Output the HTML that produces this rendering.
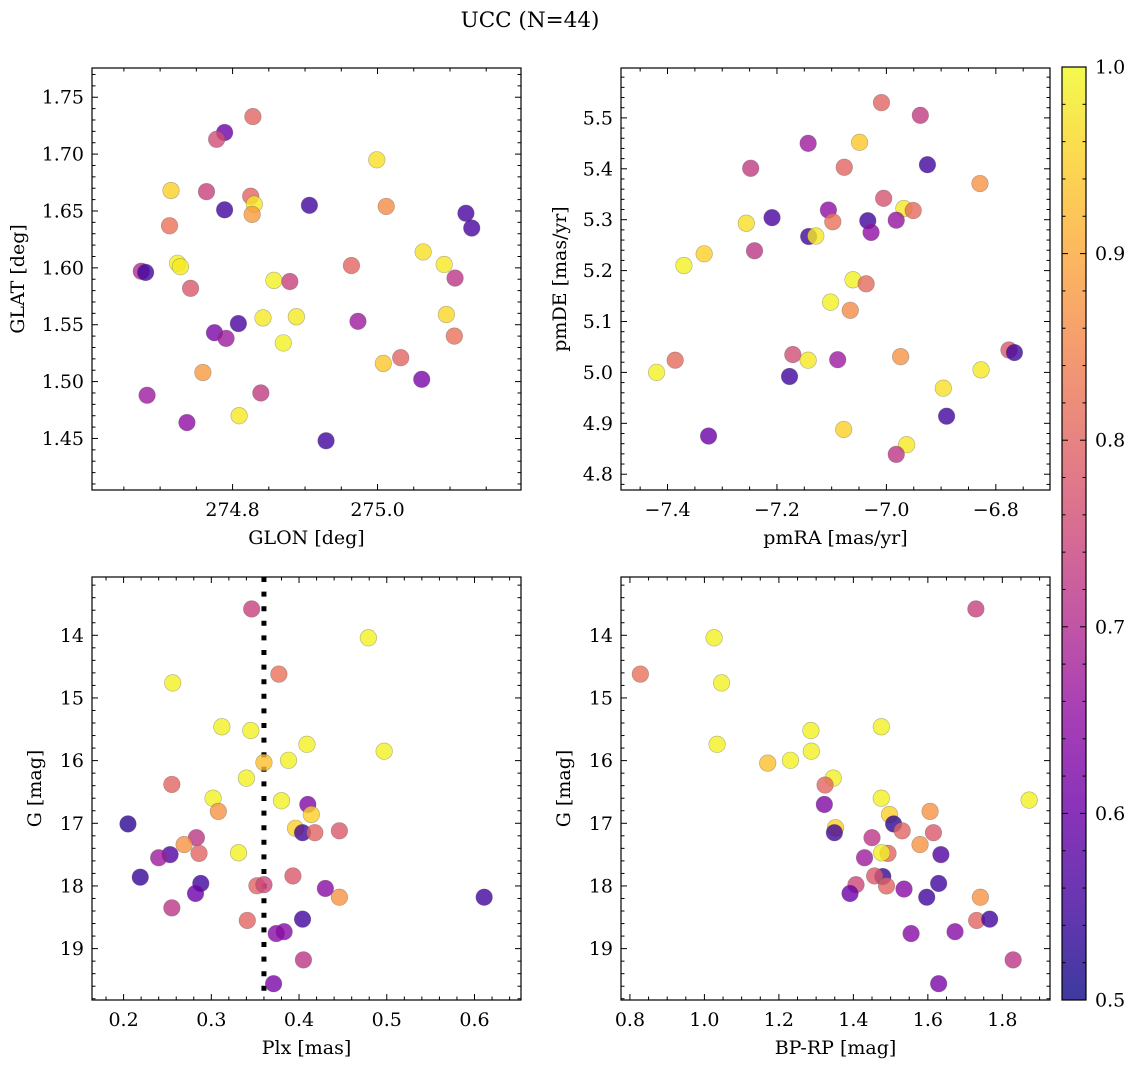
<!DOCTYPE html>
<html><head><meta charset="utf-8">
<style>
html,body{margin:0;padding:0;background:#fff;}
svg{display:block;font-family:"DejaVu Serif","Liberation Serif",serif;}
</style></head>
<body>
<svg id="fig" width="1136" height="1067" viewBox="0 0 1136 1067" xmlns="http://www.w3.org/2000/svg">
<defs>
<linearGradient id="cbgrad" x1="0" y1="1" x2="0" y2="0">
<stop offset="0" stop-color="#0d0887"/><stop offset="0.1" stop-color="#41049d"/><stop offset="0.2" stop-color="#6a00a8"/><stop offset="0.3" stop-color="#8f0da4"/><stop offset="0.4" stop-color="#b12a90"/><stop offset="0.5" stop-color="#cc4778"/><stop offset="0.6" stop-color="#e16462"/><stop offset="0.7" stop-color="#f2844b"/><stop offset="0.8" stop-color="#fca636"/><stop offset="0.9" stop-color="#fcce25"/><stop offset="1" stop-color="#f0f921"/>
</linearGradient>
</defs>
<text x="530" y="27" font-size="21.5" text-anchor="middle" fill="#000">UCC (N=44)</text>
</svg>
<script>
// ---- Panel 1 data: GLON / GLAT ----
const p1_glon=[274.828,274.789,274.778,274.999,274.715,274.764,274.825,274.830,274.827,274.789,274.906,275.012,275.122,275.130,274.713,275.063,274.724,274.728,275.092,274.674,274.680,274.964,275.107,274.857,274.879,274.742,274.842,274.888,274.775,274.808,274.791,274.973,274.870,275.095,275.106,275.032,275.008,274.759,275.061,274.682,274.839,274.809,274.737,274.929];
const p1_glat=[1.733,1.719,1.713,1.695,1.668,1.667,1.663,1.656,1.647,1.651,1.655,1.654,1.648,1.635,1.637,1.614,1.604,1.601,1.603,1.597,1.596,1.602,1.591,1.589,1.588,1.582,1.556,1.557,1.543,1.551,1.538,1.553,1.534,1.559,1.540,1.521,1.516,1.508,1.502,1.488,1.490,1.470,1.464,1.448];
const p1_prob=[0.80,0.60,0.76,0.97,0.95,0.74,0.80,0.98,0.88,0.55,0.55,0.86,0.56,0.56,0.82,0.97,0.99,0.98,0.98,0.70,0.55,0.80,0.72,0.99,0.74,0.78,0.98,0.98,0.62,0.56,0.67,0.67,0.99,0.96,0.82,0.80,0.94,0.88,0.62,0.67,0.73,0.98,0.65,0.55];
// ---- Panel 2 data: pmRA / pmDE ----
const p2_pmra=[-7.009,-6.938,-7.143,-7.049,-7.248,-7.077,-6.925,-6.829,-7.106,-7.005,-7.209,-7.098,-7.034,-6.968,-6.951,-7.256,-6.982,-7.028,-7.142,-7.129,-7.333,-7.370,-7.241,-7.061,-7.037,-7.102,-7.066,-7.386,-7.420,-7.171,-7.143,-7.089,-7.177,-6.974,-6.776,-6.766,-6.827,-6.896,-6.890,-7.325,-7.078,-6.963,-6.982];
const p2_pmde=[5.530,5.505,5.450,5.452,5.401,5.403,5.408,5.371,5.319,5.342,5.304,5.296,5.298,5.322,5.318,5.293,5.299,5.275,5.267,5.268,5.233,5.210,5.239,5.182,5.174,5.138,5.122,5.024,5.000,5.035,5.024,5.025,4.992,5.031,5.044,5.039,5.005,4.969,4.914,4.875,4.888,4.858,4.839];
const p2_prob=[0.80,0.73,0.67,0.94,0.73,0.80,0.55,0.87,0.65,0.77,0.56,0.82,0.55,0.98,0.81,0.97,0.66,0.65,0.55,0.98,0.95,0.99,0.72,0.99,0.81,0.99,0.86,0.81,0.99,0.76,0.98,0.67,0.55,0.87,0.78,0.55,0.98,0.97,0.55,0.60,0.95,0.98,0.72];
// ---- Panel 3 data: Plx / G ----
const p3_plx=[0.346,0.479,0.377,0.256,0.312,0.345,0.409,0.497,0.360,0.388,0.340,0.255,0.302,0.380,0.410,0.308,0.414,0.205,0.396,0.404,0.418,0.446,0.283,0.269,0.331,0.253,0.286,0.240,0.219,0.393,0.288,0.430,0.352,0.360,0.282,0.446,0.611,0.255,0.341,0.404,0.374,0.383,0.405,0.371];
const p3_g=[13.58,14.04,14.62,14.76,15.46,15.52,15.74,15.85,16.03,15.995,16.28,16.38,16.60,16.64,16.70,16.81,16.86,17.01,17.08,17.15,17.15,17.12,17.23,17.34,17.47,17.50,17.48,17.55,17.86,17.84,17.96,18.04,17.997,17.98,18.12,18.18,18.18,18.35,18.55,18.53,18.76,18.73,19.18,19.56];
const p3_prob=[0.74,0.99,0.82,0.99,0.99,0.99,0.99,0.99,0.93,0.99,0.99,0.80,0.99,0.99,0.63,0.87,0.95,0.53,0.95,0.55,0.80,0.78,0.72,0.87,0.99,0.57,0.80,0.67,0.54,0.78,0.55,0.64,0.80,0.75,0.60,0.87,0.55,0.72,0.80,0.55,0.64,0.64,0.72,0.62];
const p3_plx_ref=[0.36];
// ---- Panel 4 data: BP-RP / G ----
const p4_bprp=[1.729,1.026,0.828,1.046,1.286,1.475,1.034,1.287,1.170,1.231,1.346,1.324,1.872,1.475,1.322,1.606,1.497,1.508,1.352,1.349,1.531,1.615,1.450,1.579,1.635,1.493,1.476,1.430,1.479,1.457,1.629,1.536,1.489,1.407,1.391,1.741,1.597,1.731,1.766,1.555,1.673,1.829,1.629];
const p4_g=[13.58,14.04,14.62,14.76,15.52,15.46,15.74,15.85,16.04,15.995,16.28,16.39,16.63,16.60,16.70,16.81,16.86,17.01,17.07,17.15,17.12,17.15,17.23,17.34,17.50,17.48,17.47,17.55,17.85,17.84,17.96,18.05,18.00,17.98,18.12,18.18,18.18,18.55,18.53,18.76,18.73,19.18,19.56];
const p4_prob=[0.74,0.99,0.82,0.99,0.99,0.99,0.99,0.99,0.93,0.99,0.99,0.80,0.99,0.99,0.63,0.87,0.95,0.53,0.95,0.55,0.80,0.78,0.72,0.87,0.57,0.80,0.99,0.67,0.54,0.78,0.55,0.64,0.80,0.75,0.60,0.87,0.55,0.80,0.55,0.64,0.64,0.72,0.62];
// ---- Tick arrays ----
const p1_xticks=[274.8,275.0], p1_xlabels=["274.8","275.0"];
const p1_yticks=[1.45,1.50,1.55,1.60,1.65,1.70,1.75], p1_ylabels=["1.45","1.50","1.55","1.60","1.65","1.70","1.75"];
const p2_xticks=[-7.4,-7.2,-7.0,-6.8], p2_xlabels=["\u22127.4","\u22127.2","\u22127.0","\u22126.8"];
const p2_yticks=[4.8,4.9,5.0,5.1,5.2,5.3,5.4,5.5], p2_ylabels=["4.8","4.9","5.0","5.1","5.2","5.3","5.4","5.5"];
const p3_xticks=[0.2,0.3,0.4,0.5,0.6], p3_xlabels=["0.2","0.3","0.4","0.5","0.6"];
const g_yticks=[14,15,16,17,18,19], g_ylabels=["14","15","16","17","18","19"];
const p4_xticks=[0.8,1.0,1.2,1.4,1.6,1.8], p4_xlabels=["0.8","1.0","1.2","1.4","1.6","1.8"];
const cb_ticks=[0.5,0.6,0.7,0.8,0.9,1.0], cb_labels=["0.5","0.6","0.7","0.8","0.9","1.0"];

const NS="http://www.w3.org/2000/svg";
const svg=document.getElementById('fig');
const FS=19;
function el(tag,attrs,parent){const e=document.createElementNS(NS,tag);for(const k in attrs)e.setAttribute(k,attrs[k]);(parent||svg).appendChild(e);return e;}

const stops=[[13,8,135],[65,4,157],[106,0,168],[143,13,164],[177,42,144],[204,71,120],[225,100,98],[242,132,75],[252,166,54],[252,206,37],[240,249,33]];
function plasma(t){t=Math.max(0,Math.min(1,t));const f=t*10;const i=Math.min(9,Math.floor(f));const r=f-i;const a=stops[i],b=stops[i+1];
 return 'rgb('+[0,1,2].map(k=>Math.round(a[k]+(b[k]-a[k])*r)).join(',')+')';}
function cnorm(p){return (p-0.5)/0.5;}

function panel(cfg){
 const g=el('g',{});
 
 
 const sx=v=>cfg.L+(v-cfg.xd[0])/(cfg.xd[1]-cfg.xd[0])*(cfg.R-cfg.L);
 const sy=v=>cfg.B-(v-cfg.yd[0])/(cfg.yd[1]-cfg.yd[0])*(cfg.B-cfg.T);
 const cid='clip-'+cfg.name;
 const cp=el('clipPath',{id:cid},g);el('rect',{x:cfg.L,y:cfg.T,width:cfg.R-cfg.L,height:cfg.B-cfg.T},cp);
 const pts=el('g',{'clip-path':'url(#'+cid+')'},g);
 
 
 if(cfg.vline!==undefined){
  const ln=el('line',{x1:sx(cfg.vline),x2:sx(cfg.vline),y1:cfg.T,y2:cfg.B,stroke:'#000','stroke-width':5,'stroke-dasharray':'5 9.6'},pts);
  
  
 }
 for(let i=0;i<cfg.xs.length;i++){
  const c=el('circle',{cx:sx(cfg.xs[i]),cy:sy(cfg.ys[i]),r:8.3,fill:plasma(cnorm(cfg.ps[i])),'fill-opacity':0.8,stroke:'#555','stroke-opacity':0.45,'stroke-width':0.6},pts);
  
  
 }
 el('rect',{x:cfg.L,y:cfg.T,width:cfg.R-cfg.L,height:cfg.B-cfg.T,fill:'none',stroke:'#000','stroke-width':1.2},g);
 const tk=el('g',{stroke:'#000','stroke-width':1},g);
 const xmin=Math.min(...cfg.xd),xmax=Math.max(...cfg.xd);
 for(let v=Math.ceil(xmin/cfg.xminor-1e-6)*cfg.xminor;v<=xmax+1e-9;v+=cfg.xminor){
  const x=sx(v);const isMaj=cfg.xt.some(t=>Math.abs(t-v)<cfg.xminor/10);const l=isMaj?6:3.5;
  el('line',{x1:x,x2:x,y1:cfg.B,y2:cfg.B-l},tk);el('line',{x1:x,x2:x,y1:cfg.T,y2:cfg.T+l},tk);
 }
 const ymin=Math.min(...cfg.yd),ymax=Math.max(...cfg.yd);
 for(let v=Math.ceil(ymin/cfg.yminor-1e-6)*cfg.yminor;v<=ymax+1e-9;v+=cfg.yminor){
  const y=sy(v);const isMaj=cfg.yt.some(t=>Math.abs(t-v)<cfg.yminor/10);const l=isMaj?6:3.5;
  el('line',{x1:cfg.L,x2:cfg.L+l,y1:y,y2:y},tk);el('line',{x1:cfg.R,x2:cfg.R-l,y1:y,y2:y},tk);
 }
 cfg.xt.forEach((v,i)=>{const t=el('text',{x:sx(v),y:cfg.B+26,'font-size':FS,'text-anchor':'middle',fill:'#000'},g);t.textContent=cfg.xl[i];
  });
 cfg.yt.forEach((v,i)=>{const t=el('text',{x:cfg.L-8,y:sy(v)+6.5,'font-size':FS,'text-anchor':'end',fill:'#000'},g);t.textContent=cfg.yl[i];
  });
 const xt=el('text',{x:(cfg.L+cfg.R)/2,y:cfg.B+54,'font-size':FS,'text-anchor':'middle',fill:'#000'},g);xt.textContent=cfg.xtitle;
 
 const yc=(cfg.T+cfg.B)/2;
 const yt=el('text',{x:cfg.ytx,y:yc,'font-size':FS,'text-anchor':'middle',fill:'#000',transform:'rotate(-90 '+cfg.ytx+' '+yc+')'},g);yt.textContent=cfg.ytitle;
 
}

panel({name:'glon-glat-panel',L:92,R:521,T:68,B:490,xd:[274.606,275.198],yd:[1.4047,1.7757],xs:p1_glon,ys:p1_glat,ps:p1_prob,
 xt:p1_xticks,xl:p1_xlabels,yt:p1_yticks,yl:p1_ylabels,xminor:0.05,yminor:0.01,xtitle:'GLON [deg]',ytitle:'GLAT [deg]',ytx:24});
panel({name:'pmra-pmde-panel',L:621,R:1050,T:68,B:490,xd:[-7.485,-6.701],yd:[4.769,5.598],xs:p2_pmra,ys:p2_pmde,ps:p2_prob,
 xt:p2_xticks,xl:p2_xlabels,yt:p2_yticks,yl:p2_ylabels,xminor:0.05,yminor:0.02,xtitle:'pmRA [mas/yr]',ytitle:'pmDE [mas/yr]',ytx:566});
panel({name:'plx-g-panel',L:92,R:521,T:577,B:1000,xd:[0.164,0.653],yd:[19.82,13.07],xs:p3_plx,ys:p3_g,ps:p3_prob,vline:p3_plx_ref[0],
 xt:p3_xticks,xl:p3_xlabels,yt:g_yticks,yl:g_ylabels,xminor:0.02,yminor:0.2,xtitle:'Plx [mas]',ytitle:'G [mag]',ytx:41});
panel({name:'bprp-g-panel',L:621,R:1050,T:577,B:1000,xd:[0.776,1.928],yd:[19.82,13.07],xs:p4_bprp,ys:p4_g,ps:p4_prob,
 xt:p4_xticks,xl:p4_xlabels,yt:g_yticks,yl:g_ylabels,xminor:0.05,yminor:0.2,xtitle:'BP-RP [mag]',ytitle:'G [mag]',ytx:570});

(function(){
 const L=1062,R=1086,T=67,B=1000;
 const g=el('g',{});
 
 
 el('rect',{x:L,y:T,width:R-L,height:B-T,fill:'url(#cbgrad)','fill-opacity':0.8},g);
 el('rect',{x:L,y:T,width:R-L,height:B-T,fill:'none',stroke:'#000','stroke-width':1.2},g);
 const sy=v=>B-(v-0.5)/0.5*(B-T);
 for(let v=0.5;v<=1.0001;v+=0.02){const y=sy(v);const maj=cb_ticks.some(t=>Math.abs(t-v)<0.002);
  el('line',{x1:R,x2:R-(maj?6:3.5),y1:y,y2:y,stroke:'#000','stroke-width':1},g);
  el('line',{x1:L,x2:L+(maj?6:3.5),y1:y,y2:y,stroke:'#000','stroke-width':1},g);}
 cb_ticks.forEach((v,i)=>{const t=el('text',{x:R+9,y:sy(v)+6.5,'font-size':FS,fill:'#000'},g);t.textContent=cb_labels[i];
  });
})();
</script>
</body></html>
